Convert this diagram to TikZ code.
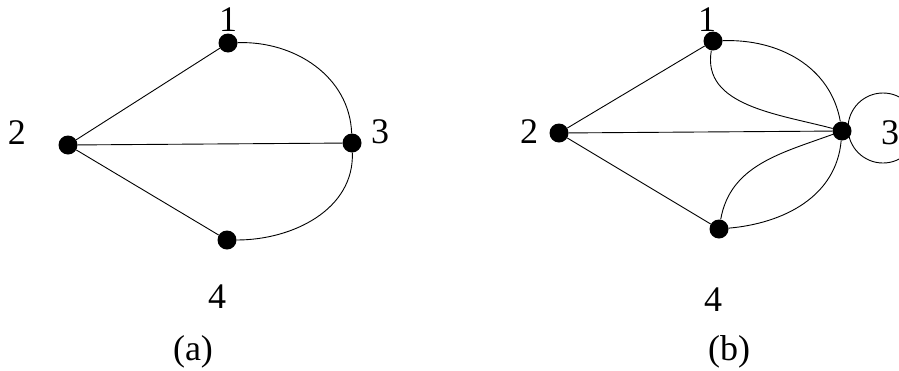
\documentclass[tikz,border=0pt]{standalone}
\usepackage{fontspec}
\setmainfont{Liberation Serif}
\newfontfamily\labfont{Liberation Serif}
\begin{document}
\begin{tikzpicture}[x=1pt,y=1pt,
  vert/.style={circle,fill=black,minimum size=19pt,inner sep=0pt},
  lab/.style={inner sep=0pt,font=\labfont\fontsize{36}{40}\selectfont},
  edge/.style={draw=black,line width=0.9pt}]
\useasboundingbox (0,0) rectangle (899,-370);
% (a)
\node[vert] (a1) at (228,-43) {};
\node[vert] (a2) at (68,-145) {};
\node[vert] (a3) at (352,-143) {};
\node[vert] (a4) at (227,-240) {};
\node[lab] (la1) at (228,-20) {1};
\node[lab] (la2) at (17,-133) {2};
\node[lab] (la3) at (380,-132) {3};
\node[lab] (la4) at (217,-297) {4};
\node[lab] (capa) at (193,-352) {(a)};
\draw[edge] (a2) -- (a1);
\draw[edge] (a2) -- (a3);
\draw[edge] (a2) -- (a4);
\draw[edge] (a1) to[out=2,in=92] (a3);
\draw[edge] (a3) to[out=-88,in=0] (a4);
% (b)
\node[vert] (b1) at (713,-41) {};
\node[vert] (b2) at (559,-133) {};
\node[vert] (b3) at (842,-131) {};
\node[vert] (b4) at (719,-229) {};
\node[lab] (lb1) at (707,-20) {1};
\node[lab] (lb2) at (529,-132) {2};
\node[lab] (lb3) at (890,-133) {3};
\node[lab] (lb4) at (713,-300) {4};
\node[lab] (capb) at (729,-352) {(b)};
\draw[edge] (b2) -- (b1);
\draw[edge] (b2) -- (b3);
\draw[edge] (b2) -- (b4);
\draw[edge] (b1) to[out=2,in=100] (b3);
\draw[edge] (b1) to[out=-100,in=165] (b3);
\draw[edge] (b4) to[out=80,in=200] (b3);
\draw[edge] (b4) to[out=5,in=-95] (b3);
\draw[edge] ([xshift=41pt,yshift=3pt]b3.center) circle (35);
\end{tikzpicture}
\end{document}
